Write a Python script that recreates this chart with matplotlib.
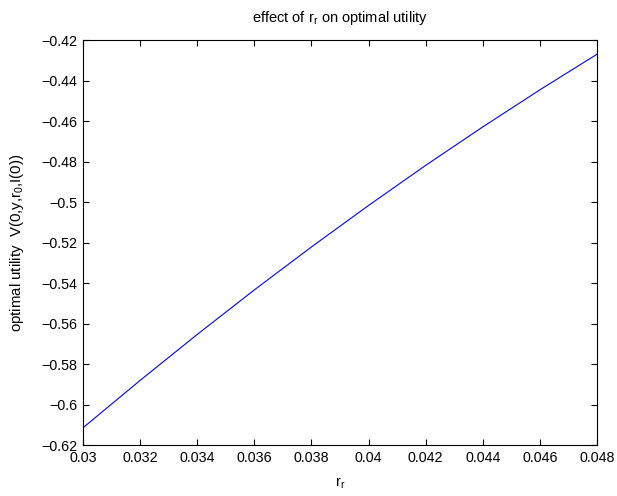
import matplotlib
matplotlib.use("Agg")
import matplotlib.pyplot as plt

# values
r_r = [0.030, 0.032, 0.034, 0.036, 0.038, 0.040, 0.042, 0.044, 0.046, 0.048]
utility = [-0.6115, -0.5881, -0.5654, -0.5434, -0.5222,
           -0.5017, -0.4819, -0.4629, -0.4446, -0.4270]

x_ticks = [0.03, 0.032, 0.034, 0.036, 0.038, 0.04, 0.042, 0.044, 0.046, 0.048]
x_tick_labels = ["0.03", "0.032", "0.034", "0.036", "0.038", "0.04",
                 "0.042", "0.044", "0.046", "0.048"]
y_ticks = [-0.62, -0.6, -0.58, -0.56, -0.54, -0.52, -0.5, -0.48, -0.46, -0.44, -0.42]
y_tick_labels = ["\u22120.62", "\u22120.6", "\u22120.58", "\u22120.56", "\u22120.54",
                 "\u22120.52", "\u22120.5", "\u22120.48", "\u22120.46", "\u22120.44",
                 "\u22120.42"]

plt.rcParams["font.family"] = ["Liberation Sans", "DejaVu Sans"]
plt.rcParams["mathtext.fontset"] = "custom"
plt.rcParams["mathtext.rm"] = "Liberation Sans"

fig = plt.figure(figsize=(6.17, 4.96), dpi=100)
ax = fig.add_axes([0.1345, 0.1028, 0.8331, 0.8165])

ax.plot(r_r, utility, color="blue", linewidth=0.8)

ax.set_xlim(0.03, 0.048)
ax.set_ylim(-0.62, -0.42)
ax.set_xticks(x_ticks)
ax.set_xticklabels(x_tick_labels)
ax.set_yticks(y_ticks)
ax.set_yticklabels(y_tick_labels)
ax.tick_params(direction="in", top=True, right=True, length=4, width=0.8,
               labelsize=10.3, pad=4)
for spine in ax.spines.values():
    spine.set_linewidth(0.8)

ax.set_title(r"effect of r$_{\mathregular{r}}$ on optimal utility", fontsize=10.5, pad=13)
ax.set_xlabel(r"r$_{\mathregular{r}}$", fontsize=10.5, labelpad=8)
ax.set_ylabel(r"optimal utility  V(0,y,r$_{\mathregular{0}}$,I(0))", fontsize=10.8, labelpad=11)

fig.savefig("out.png", dpi=100)
plt.close(fig)
